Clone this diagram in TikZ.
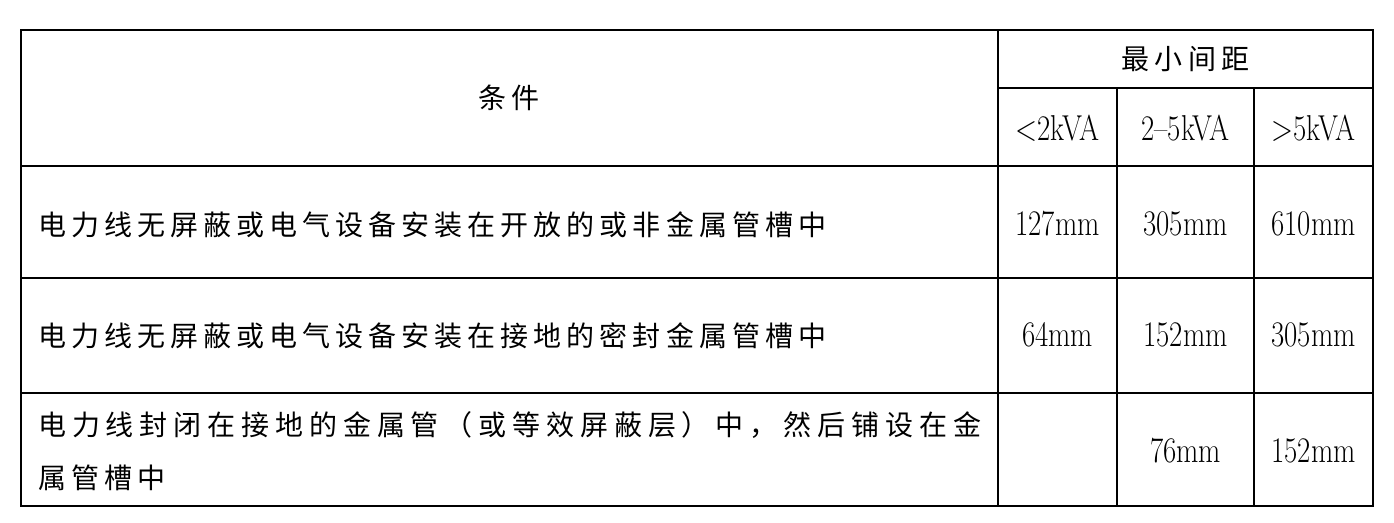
\documentclass[tikz,border=0pt]{standalone}
\usepackage{fontspec}
\usepackage{graphicx}
\newfontfamily\cjk{Noto Sans CJK SC}[LetterSpace=18]
\newfontfamily\cjkwide{Noto Sans CJK SC}[LetterSpace=21]
\newcommand\nb[1]{\scalebox{0.8}[1]{#1}}
\tikzset{
  tbl/.style={line width=1.5pt, line cap=rect},
  cj/.style={inner sep=0pt, font=\fontsize{21pt}{25pt}\selectfont\cjk},
  cjw/.style={inner sep=0pt, font=\fontsize{21pt}{25pt}\selectfont\cjkwide},
  nm/.style={inner sep=0pt, font=\fontsize{27pt}{32pt}\selectfont\rmfamily},
}
\begin{document}
\begin{tikzpicture}[x=0.75pt,y=-0.75pt]
\useasboundingbox (0,0) rectangle (1394,523);
% grid
\draw[tbl] (21,30) rectangle (1373,506);
\draw[tbl] (998,30) -- (998,506);
\draw[tbl] (998,88) -- (1373,88);
\draw[tbl] (21,166) -- (1373,166);
\draw[tbl] (21,278) -- (1373,278);
\draw[tbl] (21,393) -- (1373,393);
\draw[tbl] (1117,88) -- (1117,506);
\draw[tbl] (1254,88) -- (1254,506);
% header
\node[cj] (h1) at (509,98) {条件};
\node[cj] (h2) at (1185.5,59) {最小间距};
\node[nm] (c1) at (1057.5,128) {\nb{<2kVA}};
\node[nm] (c2) at (1185.5,128) {\nb{2--5kVA}};
\node[nm] (c3) at (1313.5,128) {\nb{>5kVA}};
% row 1
\node[cj,anchor=west] (r1) at (38,225) {电力线无屏蔽或电气设备安装在开放的或非金属管槽中};
\node[nm] (r1a) at (1057.5,224) {\nb{127mm}};
\node[nm] (r1b) at (1185.5,224) {\nb{305mm}};
\node[nm] (r1c) at (1313.5,224) {\nb{610mm}};
% row 2
\node[cj,anchor=west] (r2) at (38,336) {电力线无屏蔽或电气设备安装在接地的密封金属管槽中};
\node[nm] (r2a) at (1057.5,335) {\nb{64mm}};
\node[nm] (r2b) at (1185.5,335) {\nb{152mm}};
\node[nm] (r2c) at (1313.5,335) {\nb{305mm}};
% row 3
\node[cjw,anchor=west] (r3l1) at (38,425) {电力线封闭在接地的金属管（或等效屏蔽层）中，然后铺设在金};
\node[cj,anchor=west] (r3l2) at (38,478) {属管槽中};
\node[nm] (r3b) at (1185.5,451) {\nb{76mm}};
\node[nm] (r3c) at (1313.5,451) {\nb{152mm}};
\end{tikzpicture}
\end{document}
